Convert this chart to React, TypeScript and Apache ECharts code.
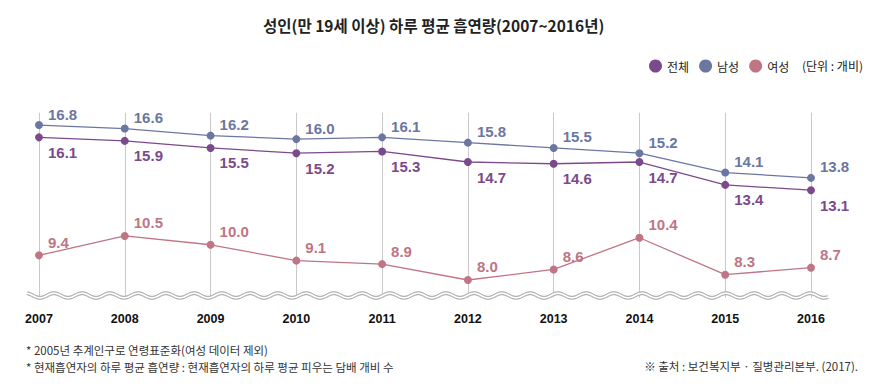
import React, { useEffect, useRef } from "react";
import * as echarts from "echarts";

const years = ["2007", "2008", "2009", "2010", "2011", "2012", "2013", "2014", "2015", "2016"];
const totalValues = [16.1, 15.9, 15.5, 15.2, 15.3, 14.7, 14.6, 14.7, 13.4, 13.1];
const maleValues = [16.8, 16.6, 16.2, 16.0, 16.1, 15.8, 15.5, 15.2, 14.1, 13.8];
const femaleValues = [9.4, 10.5, 10.0, 9.1, 8.9, 8.0, 8.6, 10.4, 8.3, 8.7];
const seriesNames = ["전체", "남성", "여성"];

const titleText = "성인(만 19세 이상) 하루 평균 흡연량(2007~2016년)";
const unitText = "(단위 : 개비)";
const note1 = "* 2005년 추계인구로 연령표준화(여성 데이터 제외)";
const note2 = "* 현재흡연자의 하루 평균 흡연량 : 현재흡연자의 하루 평균 피우는 담배 개비 수";
const sourceText = "※ 출처 : 보건복지부 · 질병관리본부. (2017).";

const COLORS = { total: "#7b4a8d", male: "#6c77a1", female: "#c07584" };
const KR = "'Noto Sans CJK KR', 'Noto Sans', sans-serif";
const NUM = "'Liberation Sans', Arial, sans-serif";

function wavePoints(x0: number, x1: number, cy: number, amp: number, period: number, phaseX: number) {
  const pts: number[][] = [];
  for (let x = x0; x <= x1; x += 1) {
    pts.push([x, cy + amp * Math.cos((2 * Math.PI * (x - phaseX)) / period)]);
  }
  return pts;
}

export default function App() {
  const ref = useRef<HTMLDivElement>(null);
  useEffect(() => {
    if (!ref.current) return;
    const chart = echarts.init(ref.current, undefined, { renderer: "svg" });
    const wave = wavePoints(27, 828, 295.5, 2.3, 28, 40);
    const mkSeries = (name: string, data: number[], color: string, offset: number[]) => ({
      name,
      type: "line",
      data,
      symbol: "circle",
      symbolSize: 8,
      lineStyle: { color, width: 1.3 },
      itemStyle: { color },
      label: {
        show: true,
        position: "right",
        distance: 5,
        offset,
        color,
        fontFamily: NUM,
        fontWeight: "bold",
        fontSize: 15,
        formatter: (p: any) => Number(p.value).toFixed(1),
      },
      z: 3,
    });
    chart.setOption({
      animation: false,
      backgroundColor: "#ffffff",
      title: {
        text: titleText,
        left: 263,
        top: 17,
        padding: 0,
        textStyle: { fontFamily: KR, fontSize: 15.5, fontWeight: "bold", color: "#222" },
      },
      legend: {
        data: seriesNames,
        left: 649,
        top: 59.5,
        padding: 0,
        icon: "circle",
        itemWidth: 13,
        itemHeight: 13,
        itemGap: 10,
        textStyle: { fontFamily: KR, fontSize: 12, color: "#222" },
      },
      grid: { left: 39, right: 67, top: 112.7, bottom: 91.4 },
      xAxis: {
        type: "category",
        data: years,
        boundaryGap: false,
        axisLine: { show: false },
        axisTick: { show: false },
        splitLine: { show: true, lineStyle: { color: "#c9c9c9", width: 1 } },
        axisLabel: {
          margin: 15,
          color: "#111",
          fontFamily: NUM,
          fontWeight: "bold",
          fontSize: 12.5,
        },
      },
      yAxis: {
        type: "value",
        min: 7,
        max: 17.5,
        show: false,
        splitLine: { show: false },
      },
      series: [
        mkSeries(seriesNames[0], totalValues, COLORS.total, [0, 15]),
        mkSeries(seriesNames[1], maleValues, COLORS.male, [0, -11]),
        mkSeries(seriesNames[2], femaleValues, COLORS.female, [0, -13]),
      ],
      graphic: [
        {
          type: "polyline",
          z: 10,
          silent: true,
          shape: { points: wave },
          style: { stroke: "#b3b3b3", lineWidth: 4, fill: "none" },
        },
        {
          type: "polyline",
          z: 11,
          silent: true,
          shape: { points: wave },
          style: { stroke: "#ffffff", lineWidth: 1.6, fill: "none" },
        },
        {
          type: "text",
          z: 12,
          left: 802,
          top: 59,
          style: { text: unitText, font: `12px ${KR}`, fill: "#222" },
        },
        {
          type: "text",
          z: 12,
          x: 26,
          y: 350,
          style: { text: note1, font: `11.5px ${KR}`, fill: "#333", verticalAlign: "middle" },
        },
        {
          type: "text",
          z: 12,
          x: 26,
          y: 367,
          style: { text: note2, font: `11.5px ${KR}`, fill: "#333", verticalAlign: "middle" },
        },
        {
          type: "text",
          z: 12,
          x: 858,
          y: 366,
          style: { text: sourceText, font: `11.5px ${KR}`, fill: "#333", align: "right", verticalAlign: "middle" },
        },
      ],
    });
    return () => chart.dispose();
  }, []);
  return (
    <div
      ref={ref}
      style={{ position: "absolute", left: 0, top: 0, width: 878, height: 389 }}
    />
  );
}
